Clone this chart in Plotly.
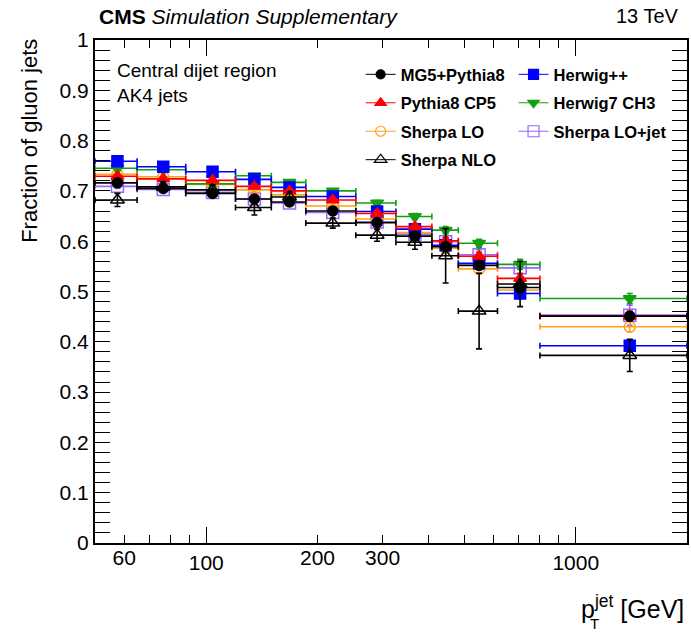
import math
import plotly.graph_objects as go

# ---- data ----
pt_low = [50, 65, 88, 120, 150, 186, 254, 326, 408, 481, 614, 800]
pt_high = [65, 88, 120, 150, 186, 254, 326, 408, 481, 614, 800, 2000]

mg5 = [0.716, 0.705, 0.695, 0.684, 0.678, 0.660, 0.637, 0.610, 0.589, 0.552, 0.508, 0.451]
mg5_err = [0.004, 0.004, 0.004, 0.004, 0.004, 0.004, 0.005, 0.006, 0.007, 0.008, 0.010, 0.008]

py8 = [0.729, 0.724, 0.721, 0.709, 0.700, 0.682, 0.655, 0.629, 0.601, 0.570, 0.526, 0.451]
py8_err = [0.004, 0.004, 0.004, 0.004, 0.004, 0.004, 0.005, 0.006, 0.007, 0.008, 0.010, 0.010]

sherpa_lo = [0.733, 0.728, 0.713, 0.702, 0.692, 0.670, 0.644, 0.617, 0.586, 0.545, 0.503, 0.430]
sherpa_lo_err = [0.004, 0.004, 0.004, 0.004, 0.004, 0.004, 0.005, 0.006, 0.007, 0.008, 0.010, 0.010]

sherpa_nlo = [0.682, 0.708, 0.702, 0.667, 0.688, 0.636, 0.612, 0.598, 0.571, 0.461, 0.515, 0.373]
sherpa_nlo_err = [0.013, 0.010, 0.010, 0.015, 0.010, 0.010, 0.012, 0.014, 0.054, 0.075, 0.045, 0.032]

herwigpp = [0.759, 0.748, 0.738, 0.723, 0.707, 0.689, 0.659, 0.624, 0.592, 0.556, 0.496, 0.392]
herwigpp_err = [0.004, 0.004, 0.004, 0.004, 0.004, 0.004, 0.005, 0.006, 0.007, 0.008, 0.010, 0.012]

herwig7 = [0.745, 0.742, 0.714, 0.730, 0.717, 0.700, 0.676, 0.649, 0.622, 0.596, 0.554, 0.486]
herwig7_err = [0.004, 0.004, 0.004, 0.004, 0.004, 0.004, 0.005, 0.006, 0.007, 0.008, 0.010, 0.010]

sherpa_lojet = [0.709, 0.703, 0.697, 0.684, 0.676, 0.657, 0.638, 0.614, 0.599, 0.573, 0.547, 0.453]
sherpa_lojet_err = [0.004, 0.004, 0.004, 0.004, 0.004, 0.004, 0.005, 0.006, 0.007, 0.010, 0.012, 0.020]

x_labels = [60, 200, 300]
x_major = [100, 1000]
x_minor = [60, 70, 80, 90, 200, 300, 400, 500, 600, 700, 800, 900, 2000]

FONT = "Liberation Sans, Arial, Helvetica, sans-serif"

centers = [(a + b) / 2 for a, b in zip(pt_low, pt_high)]
err_plus = [b - c for b, c in zip(pt_high, centers)]
err_minus = [c - a for a, c in zip(pt_low, centers)]

series = [
    # name, values, errors, color, symbol, size, legend
    ("MG5+Pythia8", mg5, mg5_err, "black", "circle", 10, "legend"),
    ("Pythia8 CP5", py8, py8_err, "#ff0000", "triangle-up", 11, "legend"),
    ("Sherpa LO", sherpa_lo, sherpa_lo_err, "#ffa31a", "circle-open", 11, "legend"),
    ("Sherpa NLO", sherpa_nlo, sherpa_nlo_err, "black", "triangle-up-open", 12, "legend"),
    ("Herwig++", herwigpp, herwigpp_err, "#0000ff", "square", 11, "legend2"),
    ("Herwig7 CH3", herwig7, herwig7_err, "#12a012", "triangle-down", 11, "legend2"),
    ("Sherpa LO+jet", sherpa_lojet, sherpa_lojet_err, "#9966ff", "square-open", 12, "legend2"),
]

fig = go.Figure()

draw_order = [6, 2, 5, 4, 1, 0, 3]
for i in draw_order:
    name, vals, errs, col, sym, size, _ = series[i]
    fig.add_trace(go.Scatter(
        x=centers, y=vals, mode="markers", showlegend=False, name=name,
        marker=dict(symbol=sym, size=size, color=col,
                    line=dict(color=col, width=1.5)),
        error_x=dict(type="data", symmetric=False, array=err_plus, arrayminus=err_minus,
                     color=col, thickness=1.6, width=3),
        error_y=dict(type="data", array=errs, color=col, thickness=1.6, width=3),
    ))

for name, vals, errs, col, sym, size, leg in series:
    fig.add_trace(go.Scatter(
        x=[None], y=[None], mode="lines+markers", name=name, legend=leg,
        legendgroup=name,
        marker=dict(symbol=sym, size=size - 1, color=col, line=dict(color=col, width=1.2)),
        line=dict(color=col, width=1),
    ))

axis_common = dict(showline=True, linewidth=2, linecolor="black", mirror="allticks",
                   ticks="inside", tickcolor="black", showgrid=False, zeroline=False)

fig.update_layout(
    width=691, height=632,
    margin=dict(l=95, r=2, t=40, b=89),
    paper_bgcolor="white", plot_bgcolor="white",
    font=dict(family=FONT, color="black"),
    xaxis=dict(type="log", range=[math.log10(50), math.log10(2000)],
               tickvals=x_major, ticktext=[str(v) for v in x_major], ticklen=16, tickwidth=1.2,
               tickfont=dict(size=21, family=FONT),
               minor=dict(tickvals=x_minor, ticklen=8, ticks="inside", tickcolor="black", tickwidth=1.2),
               **axis_common),
    xaxis2=dict(type="log", range=[math.log10(50), math.log10(2000)], overlaying="x",
                anchor="y", side="bottom", tickvals=x_labels,
                ticktext=[str(v) for v in x_labels], ticks="", showline=False,
                showgrid=False, zeroline=False, tickfont=dict(size=21, family=FONT)),
    yaxis=dict(range=[0, 1], dtick=0.1, tick0=0, ticklen=15, tickwidth=1.2,
               tickfont=dict(size=21, family=FONT),
               minor=dict(dtick=0.02, ticklen=8, ticks="inside", tickcolor="black", tickwidth=1.2),
               **axis_common),
    legend=dict(x=0.4487, y=0.966, xanchor="left", yanchor="top",
                bgcolor="rgba(0,0,0,0)", tracegroupgap=4,
                font=dict(size=16.5, family=FONT, weight="bold")),
    legend2=dict(x=0.707, y=0.966, xanchor="left", yanchor="top",
                 bgcolor="rgba(0,0,0,0)", tracegroupgap=4,
                 font=dict(size=16.5, family=FONT, weight="bold")),
)

# dummy trace to activate xaxis2
fig.add_trace(go.Scatter(x=[None], y=[None], xaxis="x2", showlegend=False))

annotations = [
    dict(text="<b>CMS</b> <i>Simulation Supplementary</i>", x=0.004, y=1.047,
         xanchor="left", yanchor="middle", font=dict(size=21)),
    dict(text="13 TeV", x=0.990, y=1.047, xanchor="right", yanchor="middle", font=dict(size=20)),
    dict(text="Central dijet region", x=0.034, y=0.940, xanchor="left", yanchor="middle",
         font=dict(size=19)),
    dict(text="AK4 jets", x=0.034, y=0.889, xanchor="left", yanchor="middle", font=dict(size=19)),
    dict(text="Fraction of gluon jets", textangle=-90, x=-0.11, y=1.006, xanchor="center",
         yanchor="top", font=dict(size=22)),
    dict(text="p<sup>jet</sup> [GeV]", x=0.998, y=-0.128, xanchor="right", yanchor="middle",
         font=dict(size=25)),
    dict(text="T", x=0.832, y=-0.160, xanchor="left", yanchor="middle", font=dict(size=15)),
]
for a in annotations:
    a.update(xref="paper", yref="paper", showarrow=False)
    a.setdefault("font", {})
    a["font"]["family"] = FONT
    a["font"]["color"] = "black"
fig.update_layout(annotations=annotations)

fig.write_html("out.html", config={"displayModeBar": False},
               post_script="document.body.style.margin='0';document.body.style.padding='0';"
                           "document.body.style.overflow='hidden';")
